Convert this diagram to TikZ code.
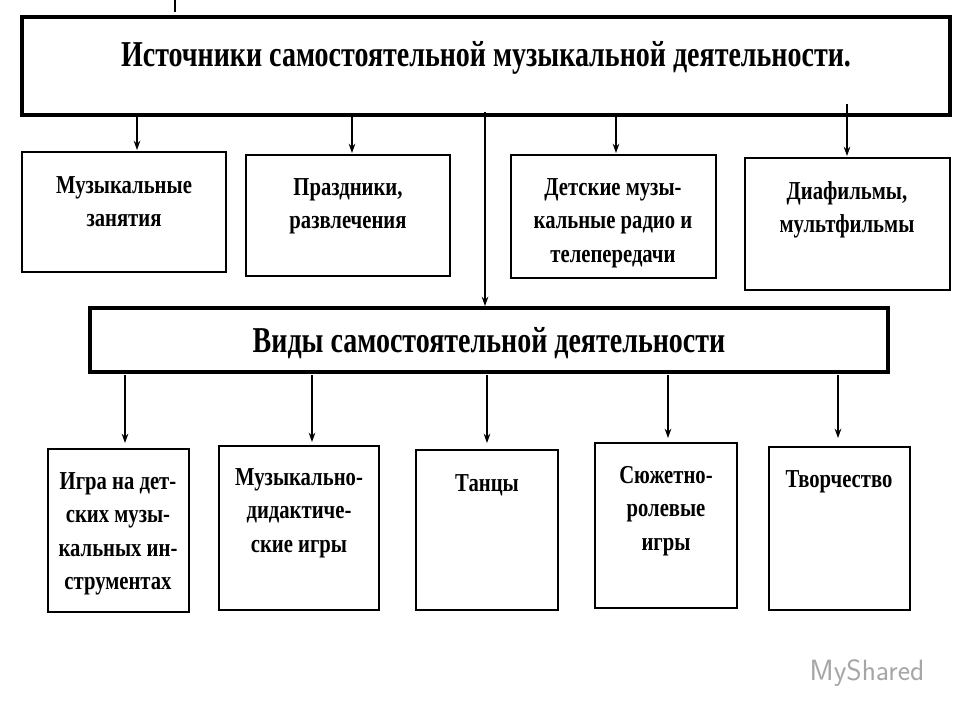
\documentclass[tikz,border=0pt]{standalone}
\usepackage{fontspec}
\usetikzlibrary{arrows.meta}
\setmainfont{Liberation Serif}
\newcommand\TT[1]{\scalebox{1}[1.25]{\begin{tabular}{@{}c@{}}#1\end{tabular}}}
\begin{document}
\begin{tikzpicture}[x=0.75pt,y=-0.75pt,
 box/.style={draw,line width=1pt,fill=white},
 big/.style={draw,line width=3pt},
 txt/.style={anchor=north,inner sep=0pt,font=\bfseries\fontsize{15.5}{20}\selectfont},
 ttl/.style={font=\bfseries\fontsize{21}{24}\selectfont},
 arr/.style={-{Stealth[length=7pt,width=5pt]},line width=0.9pt}]
\useasboundingbox (0,0) rectangle (960,720);
\fill[white] (0,0) rectangle (960,720);
\draw[line width=1.5pt] (175,0) -- (175,12);
% top box
\draw[big] (22,17) rectangle (950,115);
\node[ttl] (t) at (486,58) {\scalebox{1}[1.3]{Источники самостоятельной музыкальной деятельности.}};
\coordinate (tb1) at (137,115);\coordinate (tb2) at (352,115);\coordinate (tb3) at (616,115);\coordinate (tb4) at (847,104);\coordinate (tbc) at (485,112);
% row1
\draw[box] (22,152) rectangle (226,272); \node[txt] (a1) at (124,170) {\TT{Музыкальные\\занятия}};
\draw[box] (246,155) rectangle (450,276); \node[txt] (a2) at (348,172) {\TT{Праздники,\\развлечения}};
\draw[box] (511,155) rectangle (716,278); \node[txt] (a3) at (613,172) {\TT{Детские музы-\\кальные радио и\\телепередачи}};
\draw[box] (745,158) rectangle (950,290); \node[txt] (a4) at (847,176) {\TT{Диафильмы,\\мультфильмы}};
\coordinate (r1) at (137,150);\coordinate (r2) at (352,153);\coordinate (r3) at (616,153);\coordinate (r4) at (847,156);
\draw[arr] (tb1) -- (r1);\draw[arr] (tb2) -- (r2);\draw[arr] (tb3) -- (r3);\draw[arr] (tb4) -- (r4);
% second box
\draw[big] (90,308) rectangle (888,372);
\node[ttl] (v) at (489,343) {\scalebox{1}[1.3]{Виды самостоятельной деятельности}};
\coordinate (vt) at (485,306);
\draw[arr] (tbc) -- (vt);
% row2
\draw[box] (48,449) rectangle (189,612); \node[txt] (b1) at (118,466) {\TT{Игра на дет-\\ских музы-\\кальных ин-\\струментах}};
\draw[box] (219,446) rectangle (379,610); \node[txt] (b2) at (299,462) {\TT{Музыкально-\\дидактиче-\\ские игры}};
\draw[box] (416,450) rectangle (558,610); \node[txt] (b3) at (487,468) {\TT{Танцы}};
\draw[box] (595,443) rectangle (737,608); \node[txt] (b4) at (666,460) {\TT{Сюжетно-\\ролевые\\игры}};
\draw[box] (769,447) rectangle (910,610); \node[txt] (b5) at (839,464) {\TT{Творчество}};
\foreach \x/\y in {125/443,312/442,487/443,668/438,838/438}{\draw[arr] (\x,375) -- (\x,\y);}
\node[font=\sffamily\fontsize{22}{24}\selectfont,text=gray!70,anchor=west] (ms) at (805,673) {MyShared};
\end{tikzpicture}
\end{document}
